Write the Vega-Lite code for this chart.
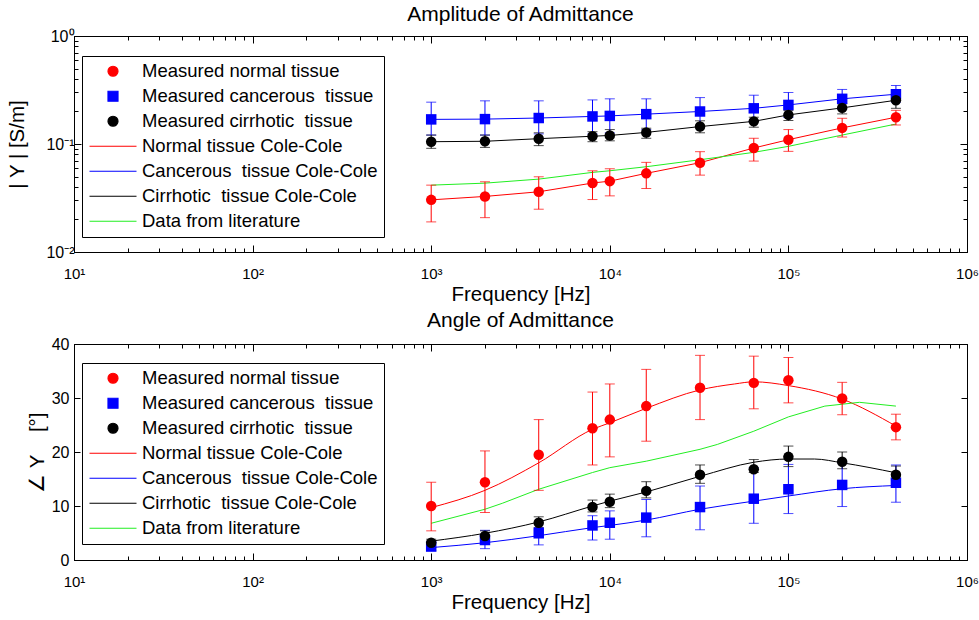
{
  "$schema": "https://vega.github.io/schema/vega-lite/v6.json",
  "padding": {"left": 7, "top": 3, "right": 0, "bottom": 5},
  "background": "white",
  "config": {
    "font": "Liberation Sans",
    "view": {"stroke": "black", "strokeWidth": 1},
    "axis": {"domainColor": "black", "tickColor": "black", "labelColor": "black", "titleColor": "black", "labelFontSize": 15, "titleFontSize": 20.5, "titleFontWeight": "normal", "grid": false, "labelFont": "Liberation Sans", "titleFont": "Liberation Sans", "labelOverlap": false, "labelBound": false, "labelFlush": false, "minExtent": 0},
    "title": {"fontSize": 21, "fontWeight": "normal", "color": "black", "font": "Liberation Sans"}
  },
  "datasets": {
    "ampMeas": [
      {"series": "Measured normal tissue", "f": 1000, "v": 0.0304, "lo": 0.019, "hi": 0.0416},
      {"series": "Measured normal tissue", "f": 2000, "v": 0.0327, "lo": 0.0208, "hi": 0.0447},
      {"series": "Measured normal tissue", "f": 4000, "v": 0.0361, "lo": 0.0249, "hi": 0.0497},
      {"series": "Measured normal tissue", "f": 8000, "v": 0.0435, "lo": 0.0306, "hi": 0.0565},
      {"series": "Measured normal tissue", "f": 10000, "v": 0.0453, "lo": 0.0331, "hi": 0.059},
      {"series": "Measured normal tissue", "f": 16000, "v": 0.0535, "lo": 0.0387, "hi": 0.0676},
      {"series": "Measured normal tissue", "f": 32000, "v": 0.0671, "lo": 0.0515, "hi": 0.0849},
      {"series": "Measured normal tissue", "f": 64000, "v": 0.0918, "lo": 0.0695, "hi": 0.113},
      {"series": "Measured normal tissue", "f": 100000, "v": 0.1096, "lo": 0.0855, "hi": 0.136},
      {"series": "Measured normal tissue", "f": 200000, "v": 0.141, "lo": 0.116, "hi": 0.173},
      {"series": "Measured normal tissue", "f": 400000, "v": 0.177, "lo": 0.15, "hi": 0.205},
      {"series": "Measured cancerous  tissue", "f": 1000, "v": 0.169, "lo": 0.121, "hi": 0.244},
      {"series": "Measured cancerous  tissue", "f": 2000, "v": 0.17, "lo": 0.121, "hi": 0.251},
      {"series": "Measured cancerous  tissue", "f": 4000, "v": 0.174, "lo": 0.124, "hi": 0.251},
      {"series": "Measured cancerous  tissue", "f": 8000, "v": 0.18, "lo": 0.124, "hi": 0.256},
      {"series": "Measured cancerous  tissue", "f": 10000, "v": 0.182, "lo": 0.127, "hi": 0.262},
      {"series": "Measured cancerous  tissue", "f": 16000, "v": 0.189, "lo": 0.136, "hi": 0.262},
      {"series": "Measured cancerous  tissue", "f": 32000, "v": 0.2, "lo": 0.146, "hi": 0.269},
      {"series": "Measured cancerous  tissue", "f": 64000, "v": 0.214, "lo": 0.162, "hi": 0.283},
      {"series": "Measured cancerous  tissue", "f": 100000, "v": 0.23, "lo": 0.176, "hi": 0.3},
      {"series": "Measured cancerous  tissue", "f": 200000, "v": 0.262, "lo": 0.211, "hi": 0.32},
      {"series": "Measured cancerous  tissue", "f": 400000, "v": 0.289, "lo": 0.244, "hi": 0.348},
      {"series": "Measured cirrhotic  tissue", "f": 1000, "v": 0.105, "lo": 0.0912, "hi": 0.121},
      {"series": "Measured cirrhotic  tissue", "f": 2000, "v": 0.106, "lo": 0.093, "hi": 0.121},
      {"series": "Measured cirrhotic  tissue", "f": 4000, "v": 0.112, "lo": 0.0966, "hi": 0.127},
      {"series": "Measured cirrhotic  tissue", "f": 8000, "v": 0.118, "lo": 0.105, "hi": 0.13},
      {"series": "Measured cirrhotic  tissue", "f": 10000, "v": 0.12, "lo": 0.107, "hi": 0.136},
      {"series": "Measured cirrhotic  tissue", "f": 16000, "v": 0.128, "lo": 0.113, "hi": 0.14},
      {"series": "Measured cirrhotic  tissue", "f": 32000, "v": 0.145, "lo": 0.127, "hi": 0.164},
      {"series": "Measured cirrhotic  tissue", "f": 64000, "v": 0.162, "lo": 0.143, "hi": 0.177},
      {"series": "Measured cirrhotic  tissue", "f": 100000, "v": 0.186, "lo": 0.165, "hi": 0.204},
      {"series": "Measured cirrhotic  tissue", "f": 200000, "v": 0.216, "lo": 0.19, "hi": 0.235},
      {"series": "Measured cirrhotic  tissue", "f": 400000, "v": 0.254, "lo": 0.214, "hi": 0.281}
    ],
    "ampFit": [
      {"series": "Normal tissue Cole-Cole", "f": 1000, "v": 0.0304},
      {"series": "Normal tissue Cole-Cole", "f": 2000, "v": 0.0327},
      {"series": "Normal tissue Cole-Cole", "f": 4000, "v": 0.0361},
      {"series": "Normal tissue Cole-Cole", "f": 8000, "v": 0.0435},
      {"series": "Normal tissue Cole-Cole", "f": 10000, "v": 0.0453},
      {"series": "Normal tissue Cole-Cole", "f": 16000, "v": 0.0535},
      {"series": "Normal tissue Cole-Cole", "f": 32000, "v": 0.0671},
      {"series": "Normal tissue Cole-Cole", "f": 64000, "v": 0.0918},
      {"series": "Normal tissue Cole-Cole", "f": 100000, "v": 0.1096},
      {"series": "Normal tissue Cole-Cole", "f": 200000, "v": 0.141},
      {"series": "Normal tissue Cole-Cole", "f": 400000, "v": 0.177},
      {"series": "Cancerous  tissue Cole-Cole", "f": 1000, "v": 0.169},
      {"series": "Cancerous  tissue Cole-Cole", "f": 2000, "v": 0.17},
      {"series": "Cancerous  tissue Cole-Cole", "f": 4000, "v": 0.174},
      {"series": "Cancerous  tissue Cole-Cole", "f": 8000, "v": 0.18},
      {"series": "Cancerous  tissue Cole-Cole", "f": 10000, "v": 0.182},
      {"series": "Cancerous  tissue Cole-Cole", "f": 16000, "v": 0.189},
      {"series": "Cancerous  tissue Cole-Cole", "f": 32000, "v": 0.2},
      {"series": "Cancerous  tissue Cole-Cole", "f": 64000, "v": 0.214},
      {"series": "Cancerous  tissue Cole-Cole", "f": 100000, "v": 0.23},
      {"series": "Cancerous  tissue Cole-Cole", "f": 200000, "v": 0.262},
      {"series": "Cancerous  tissue Cole-Cole", "f": 400000, "v": 0.289},
      {"series": "Cirrhotic  tissue Cole-Cole", "f": 1000, "v": 0.105},
      {"series": "Cirrhotic  tissue Cole-Cole", "f": 2000, "v": 0.106},
      {"series": "Cirrhotic  tissue Cole-Cole", "f": 4000, "v": 0.112},
      {"series": "Cirrhotic  tissue Cole-Cole", "f": 8000, "v": 0.118},
      {"series": "Cirrhotic  tissue Cole-Cole", "f": 10000, "v": 0.12},
      {"series": "Cirrhotic  tissue Cole-Cole", "f": 16000, "v": 0.128},
      {"series": "Cirrhotic  tissue Cole-Cole", "f": 32000, "v": 0.145},
      {"series": "Cirrhotic  tissue Cole-Cole", "f": 64000, "v": 0.162},
      {"series": "Cirrhotic  tissue Cole-Cole", "f": 100000, "v": 0.186},
      {"series": "Cirrhotic  tissue Cole-Cole", "f": 200000, "v": 0.216},
      {"series": "Cirrhotic  tissue Cole-Cole", "f": 400000, "v": 0.254},
      {"series": "Data from literature", "f": 1000, "v": 0.0416},
      {"series": "Data from literature", "f": 2000, "v": 0.0434},
      {"series": "Data from literature", "f": 4000, "v": 0.0473},
      {"series": "Data from literature", "f": 8000, "v": 0.0546},
      {"series": "Data from literature", "f": 10000, "v": 0.0565},
      {"series": "Data from literature", "f": 16000, "v": 0.0616},
      {"series": "Data from literature", "f": 32000, "v": 0.0715},
      {"series": "Data from literature", "f": 64000, "v": 0.0837},
      {"series": "Data from literature", "f": 100000, "v": 0.0951},
      {"series": "Data from literature", "f": 200000, "v": 0.121},
      {"series": "Data from literature", "f": 400000, "v": 0.153}
    ],
    "angMeas": [
      {"series": "Measured normal tissue", "f": 1000, "v": 10.0, "lo": 5.4, "hi": 14.4},
      {"series": "Measured normal tissue", "f": 2000, "v": 14.4, "lo": 8.8, "hi": 20.2},
      {"series": "Measured normal tissue", "f": 4000, "v": 19.5, "lo": 12.9, "hi": 26.0},
      {"series": "Measured normal tissue", "f": 8000, "v": 24.4, "lo": 17.6, "hi": 31.1},
      {"series": "Measured normal tissue", "f": 10000, "v": 26.0, "lo": 19.1, "hi": 32.6},
      {"series": "Measured normal tissue", "f": 16000, "v": 28.5, "lo": 22.0, "hi": 35.3},
      {"series": "Measured normal tissue", "f": 32000, "v": 31.9, "lo": 26.0, "hi": 37.9},
      {"series": "Measured normal tissue", "f": 64000, "v": 32.8, "lo": 28.0, "hi": 37.75},
      {"series": "Measured normal tissue", "f": 100000, "v": 33.3, "lo": 29.1, "hi": 37.5},
      {"series": "Measured normal tissue", "f": 200000, "v": 29.9, "lo": 26.9, "hi": 32.9},
      {"series": "Measured normal tissue", "f": 400000, "v": 24.6, "lo": 22.25, "hi": 27.0},
      {"series": "Measured cancerous  tissue", "f": 1000, "v": 2.5, "lo": 1.7, "hi": 3.2},
      {"series": "Measured cancerous  tissue", "f": 2000, "v": 3.7, "lo": 2.1, "hi": 5.5},
      {"series": "Measured cancerous  tissue", "f": 4000, "v": 4.95, "lo": 2.8, "hi": 6.0},
      {"series": "Measured cancerous  tissue", "f": 8000, "v": 6.4, "lo": 3.7, "hi": 8.2},
      {"series": "Measured cancerous  tissue", "f": 10000, "v": 6.9, "lo": 3.85, "hi": 9.1},
      {"series": "Measured cancerous  tissue", "f": 16000, "v": 7.85, "lo": 4.3, "hi": 11.2},
      {"series": "Measured cancerous  tissue", "f": 32000, "v": 9.8, "lo": 5.6, "hi": 13.7},
      {"series": "Measured cancerous  tissue", "f": 64000, "v": 11.35, "lo": 6.8, "hi": 17.1},
      {"series": "Measured cancerous  tissue", "f": 100000, "v": 13.1, "lo": 8.6, "hi": 17.7},
      {"series": "Measured cancerous  tissue", "f": 200000, "v": 13.9, "lo": 9.9, "hi": 18.0},
      {"series": "Measured cancerous  tissue", "f": 400000, "v": 14.3, "lo": 10.7, "hi": 17.6},
      {"series": "Measured cirrhotic  tissue", "f": 1000, "v": 3.2, "lo": 2.3, "hi": 3.85},
      {"series": "Measured cirrhotic  tissue", "f": 2000, "v": 4.45, "lo": 3.85, "hi": 5.4},
      {"series": "Measured cirrhotic  tissue", "f": 4000, "v": 6.9, "lo": 6.0, "hi": 8.0},
      {"series": "Measured cirrhotic  tissue", "f": 8000, "v": 9.8, "lo": 8.9, "hi": 11.1},
      {"series": "Measured cirrhotic  tissue", "f": 10000, "v": 10.8, "lo": 9.7, "hi": 12.2},
      {"series": "Measured cirrhotic  tissue", "f": 16000, "v": 12.8, "lo": 11.5, "hi": 14.5},
      {"series": "Measured cirrhotic  tissue", "f": 32000, "v": 15.8, "lo": 14.2, "hi": 17.6},
      {"series": "Measured cirrhotic  tissue", "f": 64000, "v": 16.8, "lo": 16.2, "hi": 18.6},
      {"series": "Measured cirrhotic  tissue", "f": 100000, "v": 19.1, "lo": 17.3, "hi": 21.1},
      {"series": "Measured cirrhotic  tissue", "f": 200000, "v": 18.2, "lo": 16.9, "hi": 20.0},
      {"series": "Measured cirrhotic  tissue", "f": 400000, "v": 15.8, "lo": 14.8, "hi": 17.4}
    ],
    "angFit": [
      {"series": "Normal tissue Cole-Cole", "f": 1000, "v": 9.7},
      {"series": "Normal tissue Cole-Cole", "f": 2000, "v": 12.9},
      {"series": "Normal tissue Cole-Cole", "f": 4000, "v": 18.0},
      {"series": "Normal tissue Cole-Cole", "f": 8000, "v": 24.2},
      {"series": "Normal tissue Cole-Cole", "f": 10000, "v": 25.4},
      {"series": "Normal tissue Cole-Cole", "f": 16000, "v": 28.1},
      {"series": "Normal tissue Cole-Cole", "f": 32000, "v": 31.5},
      {"series": "Normal tissue Cole-Cole", "f": 50000, "v": 32.6},
      {"series": "Normal tissue Cole-Cole", "f": 64000, "v": 33.0},
      {"series": "Normal tissue Cole-Cole", "f": 100000, "v": 32.3},
      {"series": "Normal tissue Cole-Cole", "f": 200000, "v": 29.8},
      {"series": "Normal tissue Cole-Cole", "f": 400000, "v": 24.8},
      {"series": "Cancerous  tissue Cole-Cole", "f": 1000, "v": 2.3},
      {"series": "Cancerous  tissue Cole-Cole", "f": 2000, "v": 3.2},
      {"series": "Cancerous  tissue Cole-Cole", "f": 4000, "v": 4.5},
      {"series": "Cancerous  tissue Cole-Cole", "f": 8000, "v": 6.0},
      {"series": "Cancerous  tissue Cole-Cole", "f": 10000, "v": 6.4},
      {"series": "Cancerous  tissue Cole-Cole", "f": 16000, "v": 7.4},
      {"series": "Cancerous  tissue Cole-Cole", "f": 32000, "v": 9.4},
      {"series": "Cancerous  tissue Cole-Cole", "f": 64000, "v": 10.9},
      {"series": "Cancerous  tissue Cole-Cole", "f": 100000, "v": 11.85},
      {"series": "Cancerous  tissue Cole-Cole", "f": 200000, "v": 13.2},
      {"series": "Cancerous  tissue Cole-Cole", "f": 400000, "v": 13.8},
      {"series": "Cirrhotic  tissue Cole-Cole", "f": 1000, "v": 3.5},
      {"series": "Cirrhotic  tissue Cole-Cole", "f": 2000, "v": 4.95},
      {"series": "Cirrhotic  tissue Cole-Cole", "f": 4000, "v": 7.05},
      {"series": "Cirrhotic  tissue Cole-Cole", "f": 8000, "v": 10.0},
      {"series": "Cirrhotic  tissue Cole-Cole", "f": 10000, "v": 10.9},
      {"series": "Cirrhotic  tissue Cole-Cole", "f": 16000, "v": 12.6},
      {"series": "Cirrhotic  tissue Cole-Cole", "f": 32000, "v": 15.5},
      {"series": "Cirrhotic  tissue Cole-Cole", "f": 64000, "v": 18.1},
      {"series": "Cirrhotic  tissue Cole-Cole", "f": 100000, "v": 18.7},
      {"series": "Cirrhotic  tissue Cole-Cole", "f": 140000, "v": 18.7},
      {"series": "Cirrhotic  tissue Cole-Cole", "f": 200000, "v": 18.0},
      {"series": "Cirrhotic  tissue Cole-Cole", "f": 400000, "v": 16.15}
    ],
    "angLit": [
      {"series": "Data from literature", "f": 1000, "v": 6.8},
      {"series": "Data from literature", "f": 2000, "v": 9.4},
      {"series": "Data from literature", "f": 2500, "v": 10.5},
      {"series": "Data from literature", "f": 4000, "v": 13.1},
      {"series": "Data from literature", "f": 8000, "v": 16.2},
      {"series": "Data from literature", "f": 10000, "v": 17.1},
      {"series": "Data from literature", "f": 16000, "v": 18.3},
      {"series": "Data from literature", "f": 32000, "v": 20.5},
      {"series": "Data from literature", "f": 40000, "v": 21.4},
      {"series": "Data from literature", "f": 64000, "v": 23.85},
      {"series": "Data from literature", "f": 100000, "v": 26.5},
      {"series": "Data from literature", "f": 160000, "v": 28.5},
      {"series": "Data from literature", "f": 250000, "v": 29.2},
      {"series": "Data from literature", "f": 400000, "v": 28.5}
    ]
  },
  "spacing": 4,
  "resolve": {"scale": {"x": "independent", "y": "independent", "color": "independent", "shape": "independent"}, "legend": {"color": "independent"}},
  "vconcat": [
    {
      "width": 893,
      "height": 216,
      "title": {"text": "Amplitude of Admittance", "baseline": "alphabetic", "offset": 15, "dy": 29},
      "resolve": {"axis": {"x": "independent", "y": "independent"}},
      "layer": [
        {
          "data": {"name": "ampFit"},
          "mark": {"type": "line", "strokeWidth": 1},
          "encoding": {
            "x": {"field": "f", "type": "quantitative", "scale": {"type": "log", "domain": [10, 1000000], "nice": false},
              "axis": {"orient": "bottom", "title": "Frequency [Hz]", "values": [10,20,30,40,50,60,70,80,90,100,200,300,400,500,600,700,800,900,1000,2000,3000,4000,5000,6000,7000,8000,9000,10000,20000,30000,40000,50000,60000,70000,80000,90000,100000,200000,300000,400000,500000,600000,700000,800000,900000,1000000],
                "labelExpr": "abs(log(datum.value)/LN10 - round(log(datum.value)/LN10)) < 0.001 ? '10' + ['⁰','¹','²','³','⁴','⁵','⁶'][round(log(datum.value)/LN10)] : ''",
                "tickSize": {"condition": {"test": "abs(log(datum.value)/LN10 - round(log(datum.value)/LN10)) < 0.001", "value": -7}, "value": -4},
                "labelPadding": 21, "titleY": 48, "titleBaseline": "alphabetic"}},
            "y": {"field": "v", "type": "quantitative", "scale": {"type": "log", "domain": [0.01, 1], "nice": false},
              "axis": {"orient": "left", "title": "| Y | [S/m]", "values": [0.01,0.02,0.03,0.04,0.05,0.06,0.07,0.08,0.09,0.1,0.2,0.3,0.4,0.5,0.6,0.7,0.8,0.9,1],
                "labelExpr": "abs(log(datum.value)/LN10 - round(log(datum.value)/LN10)) < 0.001 ? '10' + ['⁻²','⁻¹','⁰'][round(log(datum.value)/LN10) + 2] : ''",
                "tickSize": {"condition": {"test": "abs(log(datum.value)/LN10 - round(log(datum.value)/LN10)) < 0.001", "value": -7}, "value": -4},
                "labelPadding": 7, "labelFontSize": 16, "titleX": -50.5, "titleBaseline": "alphabetic"}},
            "color": {"field": "series", "type": "nominal",
              "scale": {"domain": ["Measured normal tissue", "Measured cancerous  tissue", "Measured cirrhotic  tissue", "Normal tissue Cole-Cole", "Cancerous  tissue Cole-Cole", "Cirrhotic  tissue Cole-Cole", "Data from literature"], "range": ["#ff0000", "#0000ff", "#000000", "#ff0000", "#0000ff", "#000000", "#22ee22"]},
              "legend": {"orient": "none", "legendX": 8, "legendY": 20, "title": null, "fillColor": "white", "strokeColor": "black", "padding": 6,
                "symbolOffset": 15.75, "labelOffset": 19.75, "symbolSize": 100, "symbolStrokeWidth": 1.2, "labelFontSize": 18.5, "labelColor": "black", "labelFont": "Liberation Sans", "rowPadding": 6, "labelLimit": 400,
                "labelExpr": "replace(datum.label, '  ', ' \u00a0')",
                "encode": {"symbols": {"update": {
                  "shape": {"signal": "datum.index == 1 ? 'square' : datum.index < 3 ? 'circle' : 'M-4.7,0H4.7'"},
                  "size": {"value": 100},
                  "fill": {"signal": "datum.index < 3 ? ['#ff0000','#0000ff','#000000'][datum.index] : 'transparent'"},
                  "stroke": {"signal": "['#ff0000','#0000ff','#000000','#ff0000','#0000ff','#000000','#22ee22'][datum.index]"},
                  "strokeWidth": {"value": 1.2},
                  "opacity": {"value": 1}
                }}}}}
          }
        },
        {
          "data": {"name": "ampMeas"},
          "mark": {"type": "errorbar", "ticks": {"size": 10}, "thickness": 1},
          "encoding": {
            "x": {"field": "f", "type": "quantitative", "axis": null},
            "y": {"field": "lo", "type": "quantitative", "axis": null},
            "y2": {"field": "hi"},
            "color": {"field": "series", "type": "nominal"}
          }
        },
        {
          "data": {"name": "ampMeas"},
          "mark": {"type": "point", "filled": true, "size": 110, "opacity": 1},
          "encoding": {
            "x": {"field": "f", "type": "quantitative",
              "axis": {"orient": "top", "title": null, "labels": false, "values": [10,20,30,40,50,60,70,80,90,100,200,300,400,500,600,700,800,900,1000,2000,3000,4000,5000,6000,7000,8000,9000,10000,20000,30000,40000,50000,60000,70000,80000,90000,100000,200000,300000,400000,500000,600000,700000,800000,900000,1000000],
                "tickSize": {"condition": {"test": "abs(log(datum.value)/LN10 - round(log(datum.value)/LN10)) < 0.001", "value": -7}, "value": -4}}},
            "y": {"field": "v", "type": "quantitative",
              "axis": {"orient": "right", "title": null, "labels": false, "values": [0.01,0.02,0.03,0.04,0.05,0.06,0.07,0.08,0.09,0.1,0.2,0.3,0.4,0.5,0.6,0.7,0.8,0.9,1],
                "tickSize": {"condition": {"test": "abs(log(datum.value)/LN10 - round(log(datum.value)/LN10)) < 0.001", "value": -7}, "value": -4}}},
            "color": {"field": "series", "type": "nominal"},
            "shape": {"field": "series", "type": "nominal", "scale": {"domain": ["Measured normal tissue", "Measured cancerous  tissue", "Measured cirrhotic  tissue"], "range": ["circle", "square", "circle"]}, "legend": null}
          }
        }
      ]
    },
    {
      "width": 893,
      "height": 216,
      "title": {"text": "Angle of Admittance", "baseline": "alphabetic", "offset": 17, "dy": 29},
      "resolve": {"axis": {"x": "independent", "y": "independent"}},
      "layer": [
        {
          "data": {"name": "angFit"},
          "mark": {"type": "line", "strokeWidth": 1, "interpolate": "monotone"},
          "encoding": {
            "x": {"field": "f", "type": "quantitative", "scale": {"type": "log", "domain": [10, 1000000], "nice": false},
              "axis": {"orient": "bottom", "title": "Frequency [Hz]", "values": [10,20,30,40,50,60,70,80,90,100,200,300,400,500,600,700,800,900,1000,2000,3000,4000,5000,6000,7000,8000,9000,10000,20000,30000,40000,50000,60000,70000,80000,90000,100000,200000,300000,400000,500000,600000,700000,800000,900000,1000000],
                "labelExpr": "abs(log(datum.value)/LN10 - round(log(datum.value)/LN10)) < 0.001 ? '10' + ['⁰','¹','²','³','⁴','⁵','⁶'][round(log(datum.value)/LN10)] : ''",
                "tickSize": {"condition": {"test": "abs(log(datum.value)/LN10 - round(log(datum.value)/LN10)) < 0.001", "value": -7}, "value": -4},
                "labelPadding": 21, "titleY": 48, "titleBaseline": "alphabetic"}},
            "y": {"field": "v", "type": "quantitative", "scale": {"domain": [0, 40], "nice": false},
              "axis": {"orient": "left", "title": "∠ Y \u00a0\u00a0 [°]", "values": [0, 10, 20, 30, 40], "tickSize": -6, "labelPadding": 11, "labelFontSize": 16, "titleX": -31, "titleBaseline": "alphabetic"}},
            "color": {"field": "series", "type": "nominal",
              "scale": {"domain": ["Measured normal tissue", "Measured cancerous  tissue", "Measured cirrhotic  tissue", "Normal tissue Cole-Cole", "Cancerous  tissue Cole-Cole", "Cirrhotic  tissue Cole-Cole", "Data from literature"], "range": ["#ff0000", "#0000ff", "#000000", "#ff0000", "#0000ff", "#000000", "#22ee22"]},
              "legend": {"orient": "none", "legendX": 8, "legendY": 19, "title": null, "fillColor": "white", "strokeColor": "black", "padding": 6,
                "symbolOffset": 15.75, "labelOffset": 19.75, "symbolSize": 100, "symbolStrokeWidth": 1.2, "labelFontSize": 18.5, "labelColor": "black", "labelFont": "Liberation Sans", "rowPadding": 6, "labelLimit": 400,
                "labelExpr": "replace(datum.label, '  ', ' \u00a0')",
                "encode": {"symbols": {"update": {
                  "shape": {"signal": "datum.index == 1 ? 'square' : datum.index < 3 ? 'circle' : 'M-4.7,0H4.7'"},
                  "size": {"value": 100},
                  "fill": {"signal": "datum.index < 3 ? ['#ff0000','#0000ff','#000000'][datum.index] : 'transparent'"},
                  "stroke": {"signal": "['#ff0000','#0000ff','#000000','#ff0000','#0000ff','#000000','#22ee22'][datum.index]"},
                  "strokeWidth": {"value": 1.2},
                  "opacity": {"value": 1}
                }}}}}
          }
        },
        {
          "data": {"name": "angLit"},
          "mark": {"type": "line", "strokeWidth": 1},
          "encoding": {
            "x": {"field": "f", "type": "quantitative", "axis": null},
            "y": {"field": "v", "type": "quantitative", "axis": null},
            "color": {"field": "series", "type": "nominal"}
          }
        },
        {
          "data": {"name": "angMeas"},
          "mark": {"type": "errorbar", "ticks": {"size": 10}, "thickness": 1},
          "encoding": {
            "x": {"field": "f", "type": "quantitative", "axis": null},
            "y": {"field": "lo", "type": "quantitative", "axis": null},
            "y2": {"field": "hi"},
            "color": {"field": "series", "type": "nominal"}
          }
        },
        {
          "data": {"name": "angMeas"},
          "mark": {"type": "point", "filled": true, "size": 110, "opacity": 1},
          "encoding": {
            "x": {"field": "f", "type": "quantitative",
              "axis": {"orient": "top", "title": null, "labels": false, "values": [10,20,30,40,50,60,70,80,90,100,200,300,400,500,600,700,800,900,1000,2000,3000,4000,5000,6000,7000,8000,9000,10000,20000,30000,40000,50000,60000,70000,80000,90000,100000,200000,300000,400000,500000,600000,700000,800000,900000,1000000],
                "tickSize": {"condition": {"test": "abs(log(datum.value)/LN10 - round(log(datum.value)/LN10)) < 0.001", "value": -7}, "value": -4}}},
            "y": {"field": "v", "type": "quantitative",
              "axis": {"orient": "right", "title": null, "labels": false, "values": [0, 10, 20, 30, 40], "tickSize": -6}},
            "color": {"field": "series", "type": "nominal"},
            "shape": {"field": "series", "type": "nominal", "scale": {"domain": ["Measured normal tissue", "Measured cancerous  tissue", "Measured cirrhotic  tissue"], "range": ["circle", "square", "circle"]}, "legend": null}
          }
        }
      ]
    }
  ]
}
